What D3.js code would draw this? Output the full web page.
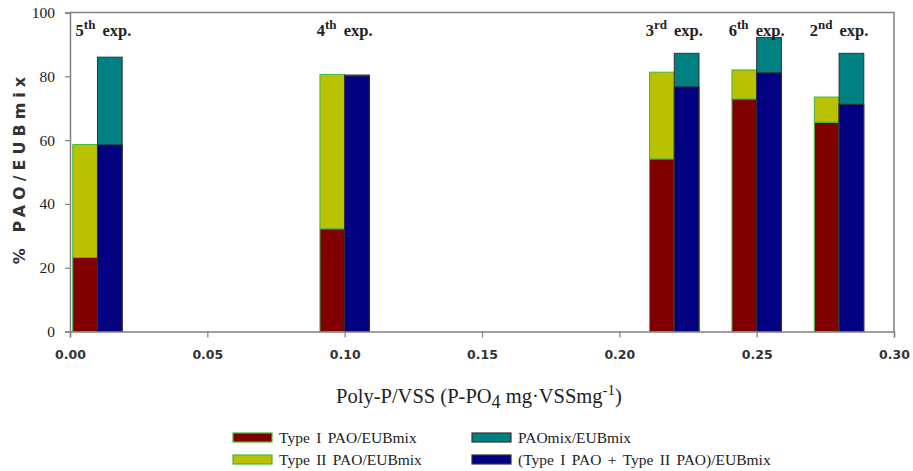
<!DOCTYPE html>
<html>
<head>
<meta charset="utf-8">
<script src="https://cdn.jsdelivr.net/npm/d3@7"></script>
<style>
  html, body { margin: 0; padding: 0; background: #fff; }
  svg { display: block; }
</style>
</head>
<body>
<svg id="chart" width="913" height="471"></svg>
<script>
// Experiments, ordered by poly-P content of the sludge
const expNumber = ["5", "4", "3", "6", "2"];
const expSuffix = ["th", "th", "rd", "th", "nd"];
const polyP = [0.01, 0.10, 0.22, 0.25, 0.28];

// Percent of EUBmix-hybridised cells
const typeI = [23.2, 32.2, 54.1, 72.9, 65.6];        // Type I PAO/EUBmix
const typeII = [35.4, 48.4, 27.2, 9.1, 7.9];         // Type II PAO/EUBmix (stacked on Type I)
const paoMix = [86.0, 80.4, 87.2, 92.2, 87.2];       // PAOmix/EUBmix
const typeSum = [58.5, 80.1, 76.7, 81.1, 71.2];      // (Type I PAO + Type II PAO)/EUBmix

const xTicks = [0, 0.05, 0.10, 0.15, 0.20, 0.25, 0.30];
const yTicks = [0, 20, 40, 60, 80, 100];

const seriesNames = ["Type I PAO/EUBmix", "Type II PAO/EUBmix", "PAOmix/EUBmix", "(Type I PAO + Type II PAO)/EUBmix"];
const seriesColors = ["#800000", "#b9c200", "#008080", "#000080"];
const seriesStroke = ["#3fb83f", "#3fb83f", "#333333", "#333333"];

const barW = 0.009;

const svg = d3.select("#chart");
const x = d3.scaleLinear().domain([0, 0.30]).range([70, 894]);
const y = d3.scaleLinear().domain([0, 100]).range([331.5, 12.5]);

const serif = "'Liberation Serif', 'Times New Roman', serif";
const sans = "'DejaVu Sans', Verdana, sans-serif";

// frame: top and right borders
svg.append("path")
  .attr("d", `M${x(0)},${y(100)}H${x(0.30)}V${y(0)}`)
  .attr("fill", "none").attr("stroke", "#808080").attr("stroke-width", 1.5);

// bars: left column = Type I + Type II stacked, right column = PAOmix behind the summed bar
const rows = polyP.map((p, i) => ({ p, i }));
const g = svg.append("g");

function bar(x0, x1, v0, v1, ci) {
  g.append("rect")
    .attr("x", x(x0)).attr("width", x(x1) - x(x0))
    .attr("y", y(v1)).attr("height", y(v0) - y(v1))
    .attr("fill", seriesColors[ci])
    .attr("stroke", seriesStroke[ci]).attr("stroke-width", 1);
}

rows.forEach(({ p, i }) => {
  bar(p - barW, p, 0, typeI[i], 0);
  bar(p - barW, p, typeI[i], typeI[i] + typeII[i], 1);
  bar(p, p + barW, 0, paoMix[i], 2);
  bar(p, p + barW, 0, typeSum[i], 3);
});

// axes
const xAxis = svg.append("g")
  .attr("transform", `translate(0,${y(0)})`)
  .call(d3.axisBottom(x).tickValues(xTicks).tickFormat(d3.format(".2f")).tickSize(6).tickPadding(13));
const yAxis = svg.append("g")
  .attr("transform", `translate(${x(0)},0)`)
  .call(d3.axisLeft(y).tickValues(yTicks).tickSize(5).tickPadding(10));

[xAxis, yAxis].forEach(a => {
  a.select(".domain").attr("stroke", "#808080").attr("stroke-width", 1.5);
  a.selectAll(".tick line").attr("stroke", "#808080").attr("stroke-width", 1.2);
});
xAxis.selectAll(".tick text")
  .attr("font-family", sans).attr("font-weight", "bold").attr("font-size", 12.5).attr("fill", "#333");
yAxis.selectAll(".tick text")
  .attr("font-family", serif).attr("font-size", 15.5).attr("fill", "#222");

// experiment labels
rows.forEach(({ p, i }) => {
  const t = svg.append("text")
    .attr("x", x(p) + (i === 0 ? 6 : 0)).attr("y", 36)
    .attr("text-anchor", "middle")
    .attr("font-family", serif).attr("font-weight", "bold").attr("font-size", 16.5).attr("fill", "#222");
  t.append("tspan").text(expNumber[i]);
  t.append("tspan").attr("dy", -7).attr("font-size", 13).text(expSuffix[i]);
  t.append("tspan").attr("dy", 7).attr("dx", 3).text("\u00a0exp.");
});

// axis titles
svg.append("text")
  .attr("transform", `translate(25,168) rotate(-90)`)
  .attr("text-anchor", "middle")
  .attr("font-family", sans).attr("font-weight", "bold").attr("font-size", 16)
  .attr("letter-spacing", 5).attr("fill", "#333")
  .text("% PAO/EUBmix");

const xt = svg.append("text")
  .attr("x", 479).attr("y", 403)
  .attr("text-anchor", "middle")
  .attr("font-family", serif).attr("font-size", 20.5).attr("fill", "#222");
xt.append("tspan").text("Poly-P/VSS (P-PO");
xt.append("tspan").attr("dy", 5).attr("font-size", 18).text("4");
xt.append("tspan").attr("dy", -5).text(" mg\u00b7VSSmg");
xt.append("tspan").attr("dy", -8).attr("font-size", 15).text("-1");
xt.append("tspan").attr("dy", 8).text(")");

// legend
const legendPos = [[233, 437], [233, 459], [472, 437], [472, 459]];
seriesNames.forEach((name, i) => {
  const [lx, ly] = legendPos[i];
  svg.append("rect")
    .attr("x", lx).attr("y", ly - 4).attr("width", 39).attr("height", 9)
    .attr("fill", seriesColors[i]).attr("stroke", seriesStroke[i]).attr("stroke-width", 1.2);
  svg.append("text")
    .attr("x", lx + 46).attr("y", ly + 5.5)
    .attr("font-family", serif).attr("font-size", 15.5).attr("fill", "#222")
    .attr("word-spacing", 2.5)
    .text(name);
});
</script>
</body>
</html>
